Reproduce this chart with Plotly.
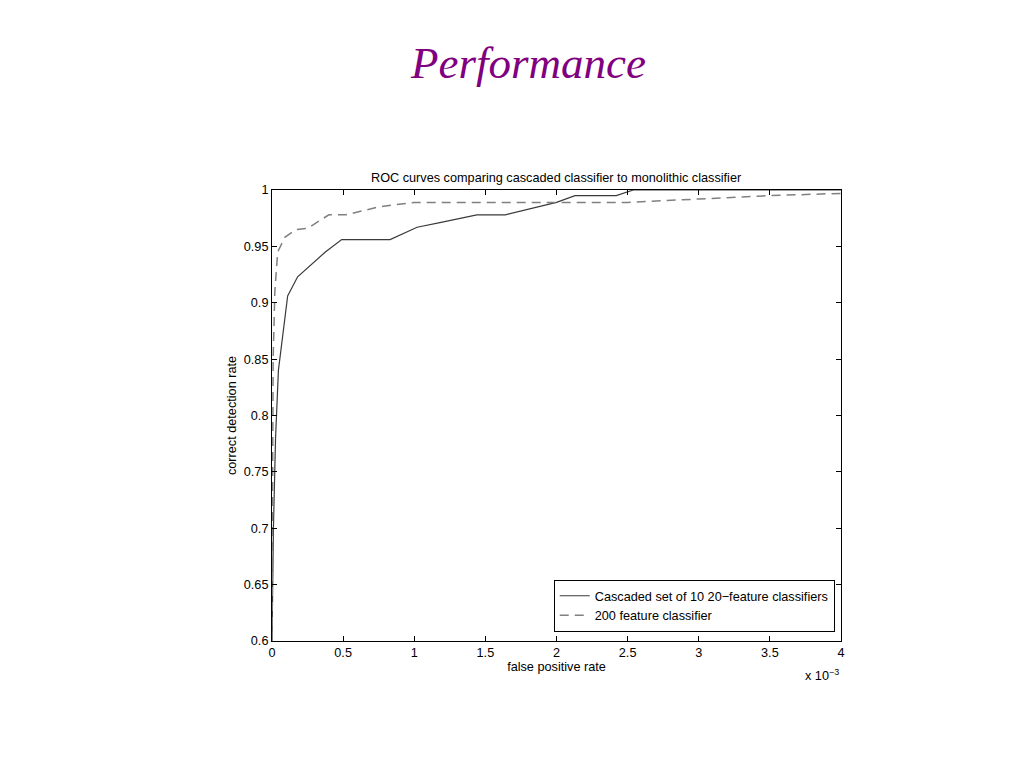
import plotly.graph_objects as go

# x values in units of 1e-3 (axis shows "x 10^-3")
cascade_fpr = [0.0, 0.01, 0.025, 0.045, 0.11, 0.18, 0.375, 0.49, 0.83, 1.02, 1.18, 1.44, 1.64, 2.0, 2.13, 2.42, 2.54, 4.0]
cascade_tpr = [0.6, 0.70, 0.78, 0.84, 0.906, 0.923, 0.945, 0.956, 0.956, 0.967, 0.971, 0.978, 0.978, 0.989, 0.995, 0.995, 1.0, 1.0]

mono_fpr = [0.0, 0.008, 0.02, 0.04, 0.09, 0.17, 0.25, 0.4, 0.52, 0.75, 1.0, 2.5, 3.0, 3.5, 4.0]
mono_tpr = [0.6, 0.85, 0.91, 0.945, 0.958, 0.965, 0.966, 0.978, 0.978, 0.985, 0.989, 0.989, 0.992, 0.995, 0.997]

x_ticks = [0, 0.5, 1, 1.5, 2, 2.5, 3, 3.5, 4]
x_labels = ["0", "0.5", "1", "1.5", "2", "2.5", "3", "3.5", "4"]
y_ticks = [0.6, 0.65, 0.7, 0.75, 0.8, 0.85, 0.9, 0.95, 1.0]
y_labels = ["0.6", "0.65", "0.7", "0.75", "0.8", "0.85", "0.9", "0.95", "1"]

fig = go.Figure()
fig.add_trace(go.Scatter(x=cascade_fpr, y=cascade_tpr, mode="lines",
                         name="Cascaded set of 10 20\u2212feature classifiers",
                         line=dict(color="#3a3a3a", width=1.2)))
fig.add_trace(go.Scatter(x=mono_fpr, y=mono_tpr, mode="lines",
                         name="200 feature classifier",
                         line=dict(color="#808080", width=1.5, dash="9px,6px")))

axis_font = dict(family="Liberation Sans, Arial, sans-serif", size=12.7, color="black")

L, T, W, H = 264, 182, 569, 451

fig.update_layout(
    width=1024, height=768, autosize=False,
    margin=dict(l=L, r=1024 - L - W, t=T, b=768 - T - H),
    paper_bgcolor="white", plot_bgcolor="white",
    font=axis_font,
    showlegend=True,
    legend=dict(x=0.989, y=0.02, xanchor="right", yanchor="bottom",
                bordercolor="black", borderwidth=1, bgcolor="white",
                font=axis_font, tracegroupgap=0, itemwidth=30),
    xaxis=dict(range=[0, 4], tickvals=x_ticks, ticktext=x_labels,
               showline=True, linecolor="black", linewidth=1, mirror="ticks",
               ticks="inside", ticklen=5, tickcolor="black", showgrid=False, zeroline=False,
               title=dict(text="false positive rate", font=axis_font, standoff=2)),
    yaxis=dict(range=[0.6, 1.0], tickvals=y_ticks, ticktext=y_labels,
               showline=True, linecolor="black", linewidth=1, mirror="ticks",
               ticks="inside", ticklen=5, tickcolor="black", showgrid=False, zeroline=False,
               title=dict(text="correct detection rate", font=axis_font, standoff=4)),
    annotations=[
        dict(text="<i>Performance</i>", x=(528 - 272) / W, y=(641 - 63) / H,
             xref="paper", yref="paper", xanchor="center", yanchor="middle",
             showarrow=False,
             font=dict(family="Liberation Serif, Times New Roman, serif", size=45, color="#800080")),
        dict(text="ROC curves comparing cascaded classifier to monolithic classifier",
             x=0.5, y=1.0, xref="paper", yref="paper", xanchor="center", yanchor="bottom",
             yshift=3, showarrow=False, font=axis_font),
        dict(text="x 10<sup>\u22123</sup>", x=1.0, y=0, xref="paper", yref="paper",
             xanchor="right", yanchor="top", yshift=-24, showarrow=False, font=axis_font),
    ],
)

fig.write_html("out.html")
